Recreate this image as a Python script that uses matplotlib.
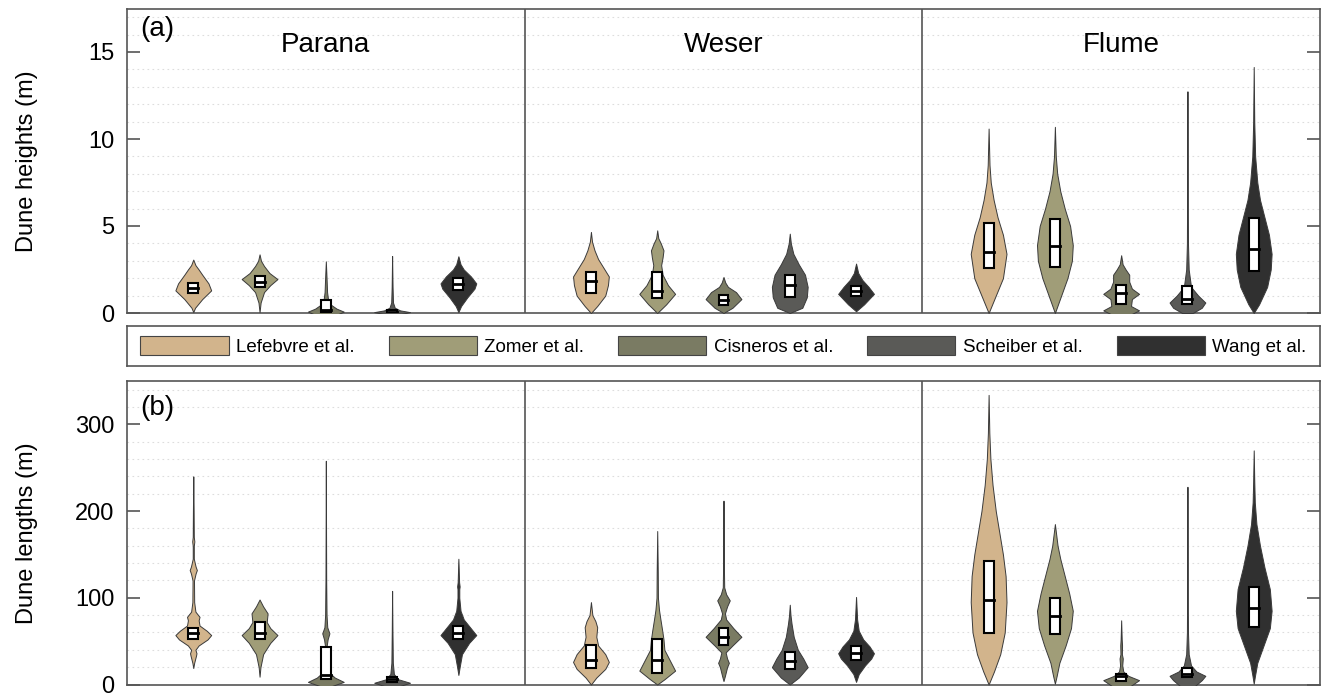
import matplotlib
matplotlib.use("Agg")
import matplotlib.pyplot as plt
from matplotlib.patches import Patch, Rectangle
import numpy as np

plt.rcParams['font.family'] = ['Liberation Sans', 'DejaVu Sans']

sites = ['Parana', 'Weser', 'Flume']
studies = ['Lefebvre et al.', 'Zomer et al.', 'Cisneros et al.', 'Scheiber et al.', 'Wang et al.']
colors = ['#D2B48C', '#A09D78', '#7A7B63', '#5A5A57', '#303030']

# violin outlines: (value, relative half width)
heights_profiles = [
    [  # Parana
        [(0.05, 0), (0.3, 0.1), (0.8, 0.5), (1.3, 1.0), (1.7, 0.85), (2.2, 0.5), (2.5, 0.3), (2.75, 0.12), (3.07, 0)],
        [(0.05, 0), (0.6, 0.06), (1.2, 0.25), (1.6, 0.6), (1.95, 1.0), (2.3, 0.55), (2.7, 0.25), (3.0, 0.08), (3.37, 0)],
        [(-0.1, 0.6), (0.08, 1.0), (0.25, 0.6), (0.5, 0.25), (0.8, 0.12), (1.2, 0.07), (2.0, 0.04), (2.97, 0)],
        [(-0.05, 0.5), (0.05, 1.0), (0.15, 0.45), (0.3, 0.15), (0.6, 0.05), (1.5, 0.025), (3.28, 0)],
        [(0.05, 0), (0.4, 0.15), (0.9, 0.5), (1.4, 0.9), (1.7, 1.0), (2.1, 0.7), (2.5, 0.3), (2.8, 0.12), (3.26, 0)],
    ],
    [  # Weser
        [(0, 0), (0.4, 0.35), (1.0, 0.8), (1.6, 0.95), (2.1, 1.0), (2.6, 0.7), (3.1, 0.4), (3.6, 0.2), (4.1, 0.06), (4.66, 0)],
        [(0, 0), (0.5, 0.5), (1.1, 1.0), (1.6, 0.6), (2.2, 0.3), (2.75, 0.22), (3.2, 0.3), (3.6, 0.35), (4.0, 0.2), (4.3, 0.06), (4.75, 0)],
        [(0, 0), (0.3, 0.5), (0.8, 1.0), (1.2, 0.7), (1.5, 0.25), (1.75, 0.1), (2.07, 0)],
        [(0, 0), (0.3, 0.7), (0.9, 0.95), (1.5, 1.0), (2.2, 0.85), (2.8, 0.5), (3.4, 0.2), (4.0, 0.06), (4.56, 0)],
        [(0.1, 0), (0.5, 0.45), (1.1, 1.0), (1.5, 0.7), (1.9, 0.35), (2.3, 0.12), (2.84, 0)],
    ],
    [  # Flume
        [(0, 0), (1.0, 0.4), (2.0, 0.8), (3.4, 1.0), (4.5, 0.8), (5.5, 0.5), (6.5, 0.28), (7.5, 0.12), (8.5, 0.05), (10.6, 0)],
        [(0, 0), (1.0, 0.35), (2.0, 0.7), (3.0, 0.95), (3.9, 1.0), (5.0, 0.85), (6.0, 0.55), (7.0, 0.3), (8.0, 0.13), (9.0, 0.05), (10.7, 0)],
        [(-0.1, 0.5), (0.15, 1.0), (0.4, 0.55), (0.8, 0.6), (1.1, 1.0), (1.4, 0.6), (1.8, 0.45), (2.2, 0.45), (2.5, 0.25), (2.8, 0.08), (3.32, 0)],
        [(0, 0.3), (0.3, 0.8), (0.6, 1.0), (1.0, 0.6), (1.5, 0.2), (2.5, 0.07), (4.0, 0.03), (8.0, 0.015), (12.74, 0)],
        [(0, 0), (0.5, 0.3), (1.5, 0.75), (2.5, 0.95), (3.4, 1.0), (4.5, 0.85), (5.5, 0.6), (6.5, 0.35), (7.5, 0.2), (9.0, 0.08), (11.0, 0.03), (14.14, 0)],
    ],
]

lengths_profiles = [
    [  # Parana
        [(19, 0), (25, 0.05), (33, 0.15), (36, 0.18), (40, 0.12), (45, 0.3), (52, 0.8), (57, 1.0), (62, 0.75), (68, 0.35),
         (74, 0.3), (78, 0.35), (84, 0.12), (95, 0.05), (120, 0.04), (128, 0.13), (132, 0.2), (136, 0.13), (145, 0.03),
         (160, 0.03), (165, 0.06), (170, 0.03), (200, 0.02), (240, 0)],
        [(9, 0), (20, 0.05), (35, 0.2), (48, 0.6), (57, 1.0), (65, 0.6), (72, 0.4), (82, 0.45), (90, 0.2), (98, 0)],
        [(-2, 0.3), (3, 1.0), (8, 0.5), (15, 0.12), (30, 0.06), (45, 0.05), (52, 0.1), (59, 0.2), (66, 0.08), (80, 0.04), (120, 0.02), (258, 0)],
        [(-2, 0.4), (2, 1.0), (6, 0.35), (12, 0.1), (25, 0.04), (60, 0.02), (108, 0)],
        [(11, 0), (20, 0.07), (35, 0.2), (48, 0.6), (57, 1.0), (66, 0.65), (75, 0.3), (85, 0.12), (100, 0.05), (110, 0.05),
         (113, 0.07), (118, 0.04), (145, 0)],
    ],
    [  # Weser
        [(0, 0), (8, 0.3), (18, 0.8), (26, 1.0), (35, 0.8), (45, 0.4), (55, 0.3), (66, 0.35), (73, 0.25), (80, 0.08), (95, 0)],
        [(0, 0), (6, 0.4), (16, 1.0), (28, 0.7), (40, 0.4), (52, 0.35), (62, 0.28), (75, 0.18), (86, 0.1), (100, 0.04), (130, 0.03), (177, 0)],
        [(4, 0), (10, 0.08), (20, 0.2), (25, 0.3), (30, 0.2), (37, 0.12), (45, 0.5), (55, 1.0), (65, 0.55), (75, 0.15),
         (82, 0.08), (90, 0.2), (97, 0.35), (104, 0.15), (112, 0.04), (140, 0.02), (212, 0)],
        [(0, 0), (8, 0.5), (20, 1.0), (30, 0.75), (40, 0.45), (55, 0.22), (70, 0.1), (80, 0.04), (92, 0)],
        [(3, 0), (12, 0.15), (22, 0.5), (30, 0.85), (36, 1.0), (44, 0.75), (52, 0.4), (62, 0.15), (75, 0.06), (101, 0)],
    ],
    [  # Flume
        [(0, 0), (15, 0.3), (35, 0.65), (60, 0.9), (95, 1.0), (125, 0.95), (150, 0.8), (175, 0.6), (200, 0.4), (230, 0.22),
         (260, 0.1), (290, 0.04), (334, 0)],
        [(1, 0), (10, 0.1), (25, 0.25), (45, 0.6), (65, 0.9), (85, 1.0), (105, 0.8), (125, 0.55), (145, 0.3), (160, 0.15), (185, 0)],
        [(-2, 0.5), (5, 1.0), (10, 0.4), (15, 0.12), (22, 0.06), (30, 0.09), (35, 0.04), (45, 0.05), (52, 0.03), (74, 0)],
        [(-2, 0.4), (5, 0.8), (10, 1.0), (15, 0.5), (22, 0.2), (35, 0.07), (60, 0.03), (100, 0.02), (228, 0)],
        [(1, 0), (10, 0.07), (25, 0.2), (45, 0.55), (65, 0.9), (85, 1.0), (110, 0.9), (135, 0.6), (160, 0.35), (185, 0.15),
         (210, 0.06), (235, 0.03), (270, 0)],
    ],
]

# boxes: (q1, median, q3)
heights_boxes = [
    [(1.15, 1.45, 1.75), (1.47, 1.78, 2.1), (0.05, 0.2, 0.72), (0.02, 0.08, 0.2), (1.3, 1.65, 2.0)],
    [(1.17, 1.82, 2.36), (0.86, 1.27, 2.36), (0.44, 0.73, 1.02), (0.92, 1.59, 2.2), (0.98, 1.27, 1.55)],
    [(2.59, 3.5, 5.2), (2.64, 3.83, 5.38), (0.5, 1.15, 1.59), (0.54, 0.83, 1.53), (2.4, 3.66, 5.48)],
]
lengths_boxes = [
    [(53, 59, 65), (53, 59, 72), (6, 11, 43.5), (3, 6, 9), (52, 59, 67)],
    [(19.3, 28, 45.4), (13.5, 28, 52), (45.4, 55, 65.4), (17.8, 27, 37.7), (28, 36.6, 44.3)],
    [(59.6, 98, 142.7), (57.8, 79.3, 99.3), (4.3, 9.7, 12), (8.2, 11.6, 18.6), (66, 88.5, 112)],
]

HALF_W = 0.27
BOX_W = 0.075
W, H = 1322, 694


def draw_panel(ax, profiles, boxes, ylim, major, minor, ylabel, tag, tag_y):
    for g in range(3):
        for k in range(5):
            x0 = g * 6 + k + 1
            prof = np.array(profiles[g][k])
            y, w = prof[:, 0], prof[:, 1] * HALF_W
            ax.fill_betweenx(y, x0 - w, x0 + w, facecolor=colors[k], edgecolor='#3a3a3a', lw=0.7, zorder=3)
            q1, med, q3 = boxes[g][k]
            ax.add_patch(Rectangle((x0 - BOX_W, q1), 2 * BOX_W, q3 - q1, facecolor='white',
                                   edgecolor='black', lw=1.5, zorder=4))
            ax.plot([x0 - BOX_W, x0 + BOX_W], [med, med], color='black', lw=2, zorder=5)
    for xv in (6, 12):
        ax.axvline(xv, color='#555555', lw=1.2, zorder=2)
    ax.set_xlim(0, 18)
    ax.set_ylim(*ylim)
    ax.set_xticks([])
    ax.set_yticks(np.arange(0, ylim[1], major))
    ax.set_yticks(np.arange(0, ylim[1], minor), minor=True)
    ax.tick_params(axis='y', which='major', direction='in', length=9.5, width=1.2, color='#555555',
                   right=True, labelsize=17, pad=9)
    ax.tick_params(axis='y', which='minor', length=0)
    ax.yaxis.grid(True, which='minor', color='#dddddd', linestyle=(0, (1.5, 3)), lw=0.8, zorder=0)
    for s in ax.spines.values():
        s.set_color('#555555')
        s.set_linewidth(1.2)
    ax.set_ylabel(ylabel, fontsize=17)
    ax.yaxis.set_label_coords(-0.075, 0.5)
    ax.text(0.011, tag_y, tag, transform=ax.transAxes, fontsize=20, va='top', ha='left')


fig = plt.figure(figsize=(W / 100, H / 100), dpi=100)
L, R = 127, 1320
ax1 = fig.add_axes([L / W, (H - 313) / H, (R - L) / W, (313 - 8.5) / H])
ax2 = fig.add_axes([L / W, (H - 684.5) / H, (R - L) / W, (684.5 - 381) / H])
axl = fig.add_axes([L / W, (H - 366) / H, (R - L) / W, 40 / H])

draw_panel(ax1, heights_profiles, heights_boxes, (0, 17.5), 5, 1, 'Dune heights (m)', '(a)', 0.975)
draw_panel(ax2, lengths_profiles, lengths_boxes, (0, 350), 100, 20, 'Dune lengths (m)', '(b)', 0.955)
for g, name in enumerate(sites):
    ax1.text(g * 6 + 3, 15.0, name, fontsize=20, ha='center', va='baseline')

axl.set_xticks([])
axl.set_yticks([])
for s in axl.spines.values():
    s.set_color('#555555')
    s.set_linewidth(1.2)
handles = [Patch(facecolor=c, edgecolor='#444444', lw=0.8) for c in colors]
axl.legend(handles, studies, loc='center', ncol=5, mode='expand', bbox_to_anchor=(0.005, 0, 0.99, 1),
           frameon=False, fontsize=13.5, handlelength=4.7, handleheight=1.15, handletextpad=0.4,
           columnspacing=1.0, borderaxespad=0)

fig.savefig('out.png', dpi=100)
